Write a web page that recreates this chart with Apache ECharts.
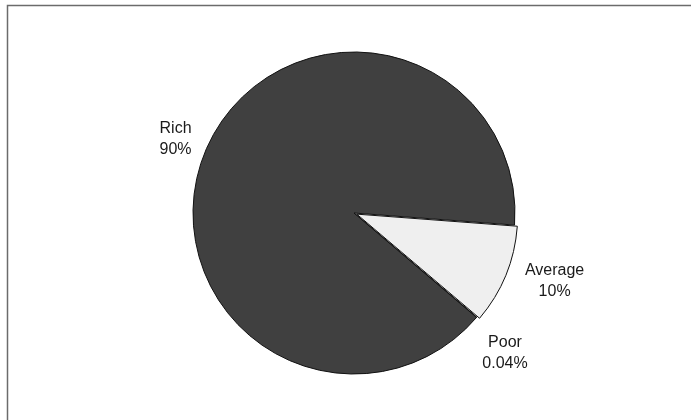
<!DOCTYPE html>
<html>
<head>
<meta charset="utf-8">
<script src="https://cdn.jsdelivr.net/npm/echarts@6/dist/echarts.min.js"></script>
<style>
html, body { margin: 0; padding: 0; background: #fff; }
#chart { width: 691px; height: 420px; }
</style>
</head>
<body>
<div id="chart"></div>
<script>
// slices go clockwise from just below 3 o'clock
var categories = ['Average', 'Poor', 'Rich'];
var shares = [10, 0.04, 89.96];
var shareLabels = ['10%', '0.04%', '90%'];
var sliceColors = ['#efefef', '#7f7f7f', '#404040'];

var CX = 354, CY = 213, R = 161;
var START = -4.3;
// how far the label centre sits outside the rim, and a small angle nudge
var labelGap = [48, 45, 32];
var labelTurn = [0, -2.5, 0];

var total = shares.reduce(function (a, b) { return a + b; }, 0);

function midAngle(i) {
  var before = 0;
  for (var k = 0; k < i; k++) before += shares[k];
  return START - (before + shares[i] / 2) / total * 360;
}

var myChart = echarts.init(document.getElementById('chart'));

var pieData = categories.map(function (name, i) {
  return {
    name: name,
    value: shares[i],
    selected: name === 'Average',
    itemStyle: { color: sliceColors[i] }
  };
});

var option = {
  animation: false,
  graphic: [{
    type: 'rect',
    shape: { x: 7.5, y: 5.5, width: 720, height: 440 },
    style: { fill: 'none', stroke: '#6b6b6b', lineWidth: 1.5 },
    silent: true
  }],
  series: [{
    type: 'pie',
    center: [CX, CY],
    radius: R,
    startAngle: START,
    clockwise: true,
    avoidLabelOverlap: false,
    selectedMode: 'single',
    selectedOffset: 3,
    itemStyle: { borderColor: '#111', borderWidth: 1 },
    emphasis: { disabled: true },
    label: {
      show: true,
      color: '#1a1a1a',
      fontFamily: 'Liberation Sans, Arial, sans-serif',
      fontSize: 16,
      lineHeight: 21,
      formatter: function (p) {
        return p.name + '\n' + shareLabels[p.dataIndex];
      }
    },
    labelLine: { show: false },
    labelLayout: function (p) {
      var a = (midAngle(p.dataIndex) + labelTurn[p.dataIndex]) * Math.PI / 180;
      var d = R + labelGap[p.dataIndex];
      return {
        x: CX + d * Math.cos(a),
        y: CY - d * Math.sin(a),
        align: 'center',
        verticalAlign: 'middle'
      };
    },
    data: pieData
  }]
};

myChart.setOption(option);
</script>
</body>
</html>
